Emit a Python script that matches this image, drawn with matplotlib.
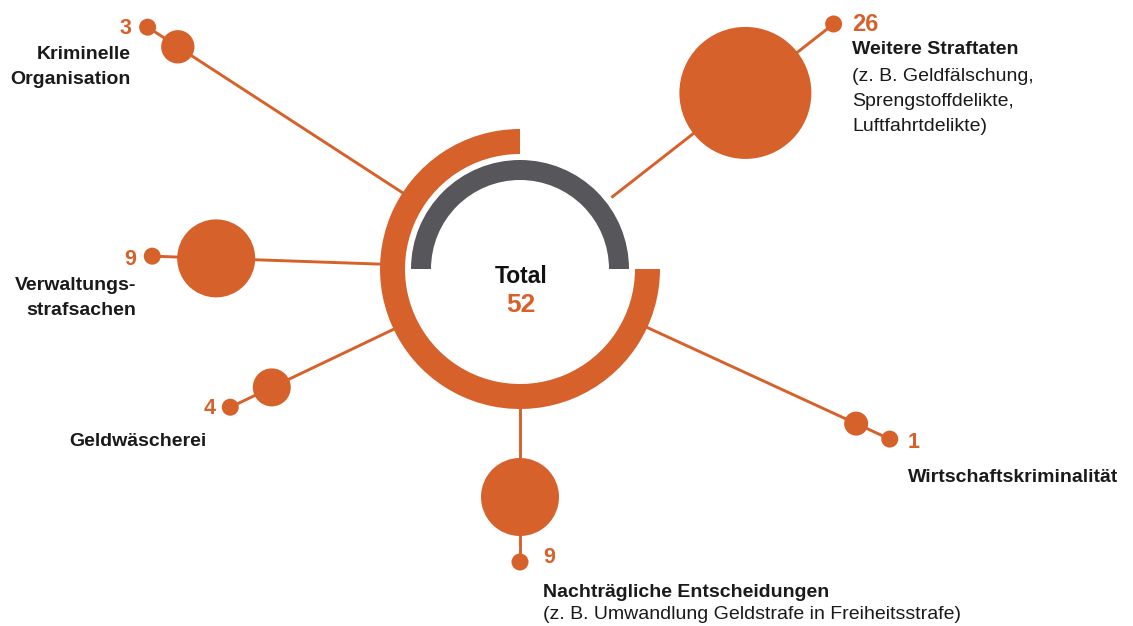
import numpy as np
import matplotlib.pyplot as plt
from matplotlib.patches import Wedge, Circle

plt.rcParams['font.family'] = ['Liberation Sans', 'DejaVu Sans']

# Fälle nach Deliktsbereich
categories = ["Kriminelle\nOrganisation",
              "Weitere Straftaten",
              "Verwaltungs-\nstrafsachen",
              "Geldwäscherei",
              "Nachträgliche Entscheidungen",
              "Wirtschaftskriminalität"]
notes = ["", "(z. B. Geldfälschung,\nSprengstoffdelikte,\nLuftfahrtdelikte)",
         "", "", "(z. B. Umwandlung Geldstrafe in Freiheitsstrafe)", ""]
values = [3, 26, 9, 4, 9, 1]
total = sum(values)

ORANGE = "#D6612A"
GREY = "#56565B"
W, H = 1133, 626

# spoke layout: direction (deg), distance of bubble and of end dot from centre (px)
angles = [147, 38, 178, 205.5, 270, -24.7]
bubble_dist = [408, 286, 304, 275, 228, 370]
dot_dist = [444, 398, 368, 321, 293, 407]

# bubble radius scale (value -> px)
size_domain = [1, 4, 9, 26]
size_range = [12, 19, 39, 66]

# label anchors: number x, baseline of the number (px from top), alignment
label_x = [131, 852, 136, 216, 543, 908]
label_y = [34, 31, 265, 414, 563, 448]
label_ha = ['right', 'left', 'right', 'right', 'left', 'left']
name_x = [131, 852, 136, 138, 543, 908]
name_ha = ['right', 'left', 'right', 'center', 'left', 'left']
name_gap = [25, 23, 25, 32, 34, 34]
LINE = 25

cx, cy = 520, H - 269

fig = plt.figure(figsize=(W / 100, H / 100), dpi=100)
ax = fig.add_axes([0, 0, 1, 1])
ax.set_xlim(0, W)
ax.set_ylim(0, H)
ax.set_aspect('equal')
ax.axis('off')

# centre rings
ax.add_patch(Wedge((cx, cy), 140, 90, 360, width=25, color=ORANGE, zorder=3, lw=0))
ax.add_patch(Wedge((cx, cy), 109, 0, 180, width=20, color=GREY, zorder=3, lw=0))
ax.text(cx + 1, H - 283, "Total", ha='center', va='baseline', fontsize=16.5,
        fontweight='bold', color='#111111', zorder=4)
ax.text(cx + 1, H - 312, str(total), ha='center', va='baseline', fontsize=19,
        fontweight='bold', color=ORANGE, zorder=4)

# spokes: line, value bubble and end dot
for ang, bd, dd, v in zip(angles, bubble_dist, dot_dist, values):
    a = np.radians(ang)
    ux, uy = np.cos(a), np.sin(a)
    ax.plot([cx + 116 * ux, cx + dd * ux], [cy + 116 * uy, cy + dd * uy],
            color=ORANGE, lw=2.1, zorder=1, solid_capstyle='butt')
    r = np.interp(v, size_domain, size_range)
    ax.add_patch(Circle((cx + bd * ux, cy + bd * uy), r, color=ORANGE, zorder=2, lw=0))
    ax.add_patch(Circle((cx + dd * ux, cy + dd * uy), 8.5, color=ORANGE, zorder=2, lw=0))


def put_lines(x, y, text, ha, **kw):
    for i, line in enumerate(text.split("\n")):
        ax.text(x, H - (y + i * LINE), line, ha=ha, va='baseline', **kw)


for i, v in enumerate(values):
    y = label_y[i]
    size = 17 if v == max(values) else 15.5
    ax.text(label_x[i], H - y, str(v), ha=label_ha[i], va='baseline', fontsize=size,
            fontweight='bold', color=ORANGE)
    y_name = y + name_gap[i]
    put_lines(name_x[i], y_name, categories[i], name_ha[i], fontsize=14,
              fontweight='bold', color='#1a1a1a')
    if notes[i]:
        n_lines = categories[i].count("\n") + 1
        gap = 27 if i == 1 else 22
        put_lines(name_x[i], y_name + (n_lines - 1) * LINE + gap, notes[i], name_ha[i],
                  fontsize=14, color='#1a1a1a')

fig.savefig("out.png", dpi=100, facecolor='white')
